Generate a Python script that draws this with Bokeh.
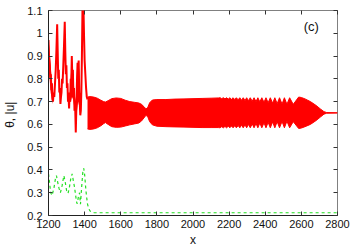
from bokeh.plotting import figure
from bokeh.models import FixedTicker, LinearAxis, Range1d, Label
from bokeh.embed import file_html
from bokeh.resources import INLINE

# ---- data ----
# irregular early part of theta (red), 1200..1416
early_x = [1200, 1203, 1207, 1210, 1213, 1216, 1219, 1222, 1225, 1228, 1232, 1236, 1240, 1244,
           1248, 1251, 1254, 1257, 1260, 1263, 1266, 1269, 1272, 1275, 1278, 1282, 1286, 1290,
           1293, 1296, 1299, 1302, 1305, 1308, 1311, 1314, 1317, 1320, 1323, 1326, 1329, 1332,
           1335, 1338, 1341, 1344, 1347, 1351, 1355, 1358, 1361, 1364, 1367, 1370, 1373, 1376,
           1379, 1382, 1385, 1388, 1391, 1394, 1397, 1400, 1404, 1408, 1412, 1416]
early_y = [0.97, 0.90, 0.86, 0.80, 0.82, 0.75, 0.78, 0.71, 0.70, 0.74, 0.72, 0.78, 0.84, 0.93,
           1.04, 0.92, 0.80, 0.84, 0.74, 0.76, 0.69, 0.72, 0.74, 0.80, 0.78, 0.86, 0.95, 1.05,
           0.92, 0.82, 0.86, 0.76, 0.78, 0.70, 0.72, 0.67, 0.74, 0.70, 0.80, 0.78, 0.90, 0.80,
           0.84, 0.72, 0.76, 0.66, 0.70, 0.565, 0.70, 0.80, 0.87, 0.84, 0.88, 0.74, 0.70, 0.64,
           0.66, 0.75, 0.90, 1.10, 1.15, 1.10, 0.98, 0.88, 0.82, 0.76, 0.72, 0.71]

# densely oscillating stretches of the early part (filled in the picture)
dense0_x = [1200, 1206, 1212, 1218, 1224]
dense0_lo = [0.86, 0.80, 0.74, 0.71, 0.69]
dense0_hi = [0.98, 0.92, 0.86, 0.80, 0.74]
dense1_x = [1318, 1324, 1330, 1336, 1342, 1347, 1352, 1358, 1364, 1370, 1376]
dense1_lo = [0.70, 0.70, 0.72, 0.71, 0.68, 0.66, 0.62, 0.66, 0.70, 0.68, 0.64]
dense1_hi = [0.74, 0.82, 0.88, 0.84, 0.76, 0.72, 0.70, 0.85, 0.87, 0.84, 0.70]

# envelope of the fast oscillation of theta (red band), 1416..2800
band_x = [1416, 1430, 1450, 1470, 1490, 1505, 1515, 1530, 1550, 1575, 1600, 1625, 1650, 1675,
          1700, 1715, 1728, 1740, 1750, 1760, 1775, 1800, 1850, 1900, 1950, 2000, 2050, 2100,
          2140, 2150, 2159, 2168, 2177, 2186, 2195, 2204, 2213, 2222, 2231, 2240, 2250, 2259,
          2269, 2278, 2288, 2297, 2307, 2317, 2328, 2338, 2349, 2359, 2370, 2381, 2393, 2404,
          2416, 2428, 2441, 2453, 2466, 2479, 2493, 2506, 2520, 2535, 2555, 2585, 2600, 2620,
          2650, 2680, 2705, 2725, 2740, 2800]
band_upper = [0.720, 0.722, 0.720, 0.715, 0.706, 0.700, 0.698, 0.704, 0.713, 0.716, 0.714,
              0.706, 0.700, 0.697, 0.694, 0.688, 0.678, 0.668, 0.675, 0.695, 0.707, 0.709,
              0.709, 0.711, 0.712, 0.713, 0.714, 0.715, 0.716, 0.717, 0.713, 0.717, 0.712,
              0.717, 0.711, 0.717, 0.710, 0.717, 0.709, 0.717, 0.708, 0.717, 0.706, 0.717,
              0.705, 0.717, 0.704, 0.717, 0.702, 0.717, 0.700, 0.717, 0.699, 0.717, 0.697,
              0.717, 0.695, 0.717, 0.693, 0.717, 0.691, 0.717, 0.689, 0.717, 0.688, 0.717,
              0.688, 0.720, 0.718, 0.712, 0.700, 0.684, 0.668, 0.656, 0.652, 0.651]
band_lower = [0.580, 0.578, 0.580, 0.585, 0.594, 0.603, 0.608, 0.600, 0.590, 0.587, 0.588,
              0.593, 0.598, 0.602, 0.606, 0.615, 0.628, 0.640, 0.632, 0.612, 0.598, 0.592,
              0.590, 0.589, 0.588, 0.587, 0.586, 0.586, 0.586, 0.585, 0.590, 0.585, 0.591,
              0.585, 0.592, 0.585, 0.593, 0.585, 0.594, 0.585, 0.595, 0.585, 0.597, 0.585,
              0.598, 0.585, 0.600, 0.585, 0.602, 0.585, 0.604, 0.585, 0.606, 0.585, 0.607,
              0.585, 0.609, 0.585, 0.611, 0.585, 0.612, 0.585, 0.613, 0.585, 0.614, 0.585,
              0.612, 0.582, 0.584, 0.590, 0.600, 0.616, 0.632, 0.645, 0.649, 0.650]

# |u| (green dashed)
green_x = [1200, 1205, 1212, 1220, 1230, 1238, 1244, 1250, 1258, 1266, 1275, 1285, 1292, 1300,
           1308, 1315, 1323, 1331, 1338, 1344, 1350, 1355, 1359, 1365, 1372, 1377, 1384, 1390,
           1395, 1400, 1405, 1410, 1416, 1423, 1430, 1440, 1451, 1470, 2800]
green_y = [0.383, 0.35, 0.30, 0.288, 0.32, 0.36, 0.375, 0.35, 0.32, 0.30, 0.33, 0.375, 0.35,
           0.31, 0.297, 0.32, 0.36, 0.383, 0.35, 0.325, 0.29, 0.26, 0.252, 0.28, 0.30, 0.25,
           0.33, 0.39, 0.407, 0.38, 0.33, 0.288, 0.25, 0.23, 0.22, 0.215, 0.213, 0.212, 0.212]

x_ticks = [1200, 1400, 1600, 1800, 2000, 2200, 2400, 2600, 2800]
y_ticks = [0.2, 0.3, 0.4, 0.5, 0.6, 0.7, 0.8, 0.9, 1.0, 1.1]
y_tick_labels = ["0.2", "0.3", "0.4", "0.5", "0.6", "0.7", "0.8", "0.9", "1", "1.1"]

FONT = "Liberation Sans"

p = figure(width=356, height=249, output_backend="svg", toolbar_location=None,
           x_range=Range1d(1200, 2800), y_range=Range1d(0.2, 1.1),
           min_border_left=48, min_border_right=19, min_border_top=10, min_border_bottom=32)
p.xgrid.visible = False
p.ygrid.visible = False
p.outline_line_color = "#808080"
p.outline_line_width = 1
p.background_fill_color = "white"
p.border_fill_color = "white"

# data
p.varea(x=band_x, y1=band_lower, y2=band_upper, color="#ff0000")
p.line(band_x, band_upper, color="#ff0000", line_width=1)
p.line(band_x, band_lower, color="#ff0000", line_width=1)
p.varea(x=dense0_x, y1=dense0_lo, y2=dense0_hi, color="#ff0000")
p.varea(x=dense1_x, y1=dense1_lo, y2=dense1_hi, color="#ff0000")
p.line(early_x, early_y, color="#ff0000", line_width=2)
p.line(green_x, green_y, color="#22e022", line_width=1.2, line_dash="3 3")

p.add_layout(Label(x=2655, y=1.03, text="(c)", text_font=FONT, text_font_size="13px",
                   text_align="center", text_baseline="middle", text_color="#111111"))

def style(ax, labels=True):
    ax.major_tick_in = 4
    ax.major_tick_out = 0
    ax.minor_tick_in = 0
    ax.minor_tick_out = 0
    ax.major_tick_line_color = "#333333"
    ax.major_label_text_font = FONT
    ax.major_label_text_font_size = "11px"
    ax.major_label_text_color = "#111111" if labels else None
    ax.axis_label_text_font = FONT
    ax.axis_label_text_font_style = "normal"
    ax.axis_label_text_font_size = "12px"
    ax.axis_label_text_color = "#111111"

xb = p.xaxis[0]
yl = p.yaxis[0]
xb.ticker = FixedTicker(ticks=x_ticks)
yl.ticker = FixedTicker(ticks=y_ticks)
yl.major_label_overrides = {t: s for t, s in zip(y_ticks, y_tick_labels)}
style(xb)
style(yl)
xb.axis_line_color = "#222222"
yl.axis_line_color = "#222222"
xb.axis_label = "x"
yl.axis_label = "θ,  |u|"
xb.major_label_standoff = 4
xb.axis_label_standoff = 2
yl.major_label_standoff = 6
yl.axis_label_standoff = 7

xt = LinearAxis(ticker=FixedTicker(ticks=x_ticks), major_label_standoff=0, axis_line_color=None)
yr = LinearAxis(ticker=FixedTicker(ticks=y_ticks), major_label_standoff=0, axis_line_color=None)
style(xt, labels=False)
style(yr, labels=False)
p.add_layout(xt, "above")
p.add_layout(yr, "right")

open("out.html", "w").write(file_html(p, INLINE))
